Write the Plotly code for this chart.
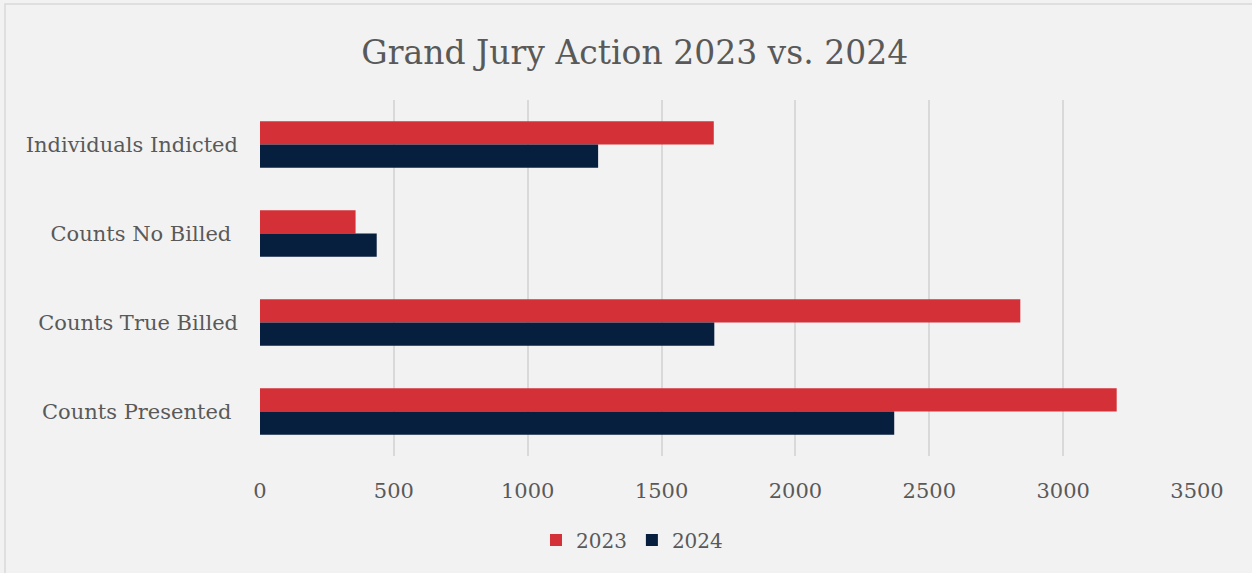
import plotly.graph_objects as go

categories = ["Individuals Indicted", "Counts No Billed ", "Counts True Billed", "Counts Presented "]
values_2023 = [1695, 357, 2840, 3200]
values_2024 = [1263, 436, 1697, 2369]
x_ticks = [0, 500, 1000, 1500, 2000, 2500, 3000, 3500]

FONT = "DejaVu Serif"
GRAY = "#595959"

fig = go.Figure()
fig.add_trace(go.Bar(y=categories, x=values_2023, name="2023", orientation="h",
                     marker=dict(color="#d33037", line=dict(width=0))))
fig.add_trace(go.Bar(y=categories, x=values_2024, name="2024", orientation="h",
                     marker=dict(color="#071f3f", line=dict(width=0))))

fig.update_layout(
    width=1252, height=573, autosize=False,
    paper_bgcolor="#f2f2f2", plot_bgcolor="#f2f2f2",
    margin=dict(l=260, r=55, t=100, b=117, autoexpand=False),
    barmode="group", bargap=0.48, bargroupgap=0,
    title=dict(text="Grand Jury Action 2023 vs. 2024", x=0.507, xref="container",
               y=1 - 52/573, yref="container", yanchor="middle",
               xanchor="center",
               font=dict(family=FONT, size=33, color=GRAY)),
    font=dict(family=FONT, color=GRAY),
    legend=dict(orientation="h", x=0.397, xanchor="center",
                y=-0.236, yanchor="middle", font=dict(size=20, color=GRAY),
                itemwidth=30, traceorder="normal"),
    xaxis=dict(range=[0, 3500], tickvals=x_ticks, showgrid=True, gridcolor="#d9d9d9",
               gridwidth=2, zeroline=False, showline=False, tickangle=0,
               tickfont=dict(size=21, color=GRAY), ticklabelstandoff=20),
    yaxis=dict(autorange="reversed", showgrid=False, zeroline=False, showline=False,
               tickfont=dict(size=21, color=GRAY), ticklabelstandoff=21),
    shapes=[dict(type="rect", xref="paper", yref="paper", x0=-255/937, x1=1+80/937,
                 y0=-150/356, y1=1+96/356, line=dict(color="#d9d9d9", width=1.5),
                 fillcolor="rgba(0,0,0,0)", layer="below")],
)

fig.write_html("out.html", config={"displayModeBar": False},
               post_script="document.body.style.margin='0';document.body.style.background='#f2f2f2';")
